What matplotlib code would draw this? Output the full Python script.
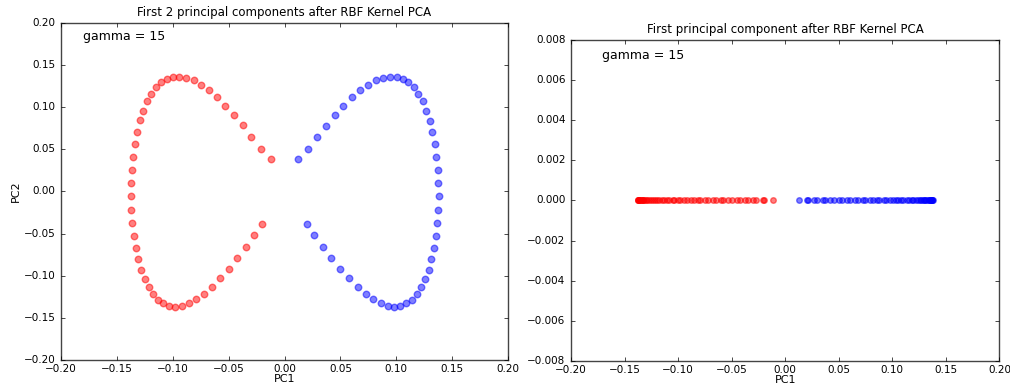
import matplotlib
matplotlib.use("Agg")
from matplotlib import pyplot as plt
import numpy as np

# PC1 / PC2 of the two moons after RBF kernel PCA
red_pc1 = [-0.0118, -0.0210, -0.0300, -0.0371, -0.0452, -0.0532, -0.0604, -0.0676, -0.0747, -0.0810,
           -0.0881, -0.0944, -0.0998, -0.1051, -0.1105, -0.1150, -0.1198, -0.1230, -0.1269, -0.1296,
           -0.1323, -0.1338, -0.1359, -0.1368, -0.1377, -0.1377, -0.1377, -0.1368, -0.1350, -0.1332,
           -0.1314, -0.1287, -0.1251, -0.1215, -0.1177, -0.1135, -0.1087, -0.1037, -0.0980, -0.0917,
           -0.0855, -0.0792, -0.0720, -0.0649, -0.0577, -0.0497, -0.0425, -0.0345, -0.0273, -0.0201]
red_pc2 = [0.0390, 0.0509, 0.0652, 0.0787, 0.0902, 0.1009, 0.1120, 0.1203, 0.1262, 0.1322,
           0.1346, 0.1358, 0.1358, 0.1330, 0.1298, 0.1239, 0.1155, 0.1072, 0.0961, 0.0846,
           0.0712, 0.0569, 0.0414, 0.0260, 0.0105, -0.0050, -0.0216, -0.0371, -0.0525, -0.0672,
           -0.0803, -0.0933, -0.1040, -0.1135, -0.1219, -0.1290, -0.1326, -0.1361, -0.1373, -0.1361,
           -0.1326, -0.1278, -0.1219, -0.1135, -0.1028, -0.0921, -0.0791, -0.0660, -0.0513, -0.0382]

blue_pc1 = [0.0124, 0.0213, 0.0294, 0.0374, 0.0455, 0.0526, 0.0607, 0.0679, 0.0744, 0.0816,
            0.0879, 0.0941, 0.1004, 0.1057, 0.1102, 0.1156, 0.1192, 0.1236, 0.1263, 0.1299,
            0.1317, 0.1344, 0.1353, 0.1371, 0.1374, 0.1383, 0.1374, 0.1365, 0.1353, 0.1335,
            0.1308, 0.1290, 0.1254, 0.1219, 0.1183, 0.1138, 0.1084, 0.1031, 0.0977, 0.0923,
            0.0861, 0.0789, 0.0726, 0.0655, 0.0574, 0.0500, 0.0419, 0.0348, 0.0267, 0.0204]
blue_pc2 = [0.0390, 0.0509, 0.0652, 0.0783, 0.0902, 0.1009, 0.1120, 0.1203, 0.1262, 0.1322,
            0.1350, 0.1358, 0.1358, 0.1330, 0.1298, 0.1239, 0.1155, 0.1072, 0.0961, 0.0842,
            0.0712, 0.0569, 0.0414, 0.0260, 0.0105, -0.0050, -0.0216, -0.0371, -0.0525, -0.0672,
            -0.0803, -0.0933, -0.1040, -0.1135, -0.1219, -0.1290, -0.1326, -0.1361, -0.1373, -0.1361,
            -0.1326, -0.1278, -0.1219, -0.1135, -0.1028, -0.0921, -0.0791, -0.0660, -0.0513, -0.0382]

# right panel: only the first component, everything sits on zero
red_zero = [0.0] * len(red_pc1)
blue_zero = [0.0] * len(blue_pc1)

gamma_text = "gamma = 15"

plt.style.use("classic")
plt.rcParams["font.family"] = ["DejaVu Sans"]
plt.rcParams["xtick.labelsize"] = 7.5
plt.rcParams["ytick.labelsize"] = 7.5
plt.rcParams["xtick.major.size"] = 3
plt.rcParams["ytick.major.size"] = 3
plt.rcParams["xtick.major.pad"] = 3

fig = plt.figure(figsize=(10.1, 3.89), dpi=100, facecolor="white")
ax1 = fig.add_axes([0.0604, 0.0746, 0.4426, 0.8663])
ax2 = fig.add_axes([0.5653, 0.0720, 0.4243, 0.8252])

# left: both components
ax1.scatter(red_pc1, red_pc2, color="red", marker="o", alpha=0.5, s=22, edgecolors="face")
ax1.scatter(blue_pc1, blue_pc2, color="blue", marker="o", alpha=0.5, s=22, edgecolors="face")
ax1.set_xlim(-0.2, 0.2)
ax1.set_ylim(-0.2, 0.2)
ax1.set_xticks(np.arange(-0.2, 0.201, 0.05))
ax1.set_yticks(np.arange(-0.2, 0.201, 0.05))
ax1.set_title("First 2 principal components after RBF Kernel PCA", fontsize=8.5)
ax1.set_xlabel("PC1", fontsize=8, labelpad=0)
ax1.set_ylabel("PC2", fontsize=8, labelpad=2)
ax1.text(0.05, 0.96, gamma_text, transform=ax1.transAxes, fontsize=9, va="center")

# right: first component only
ax2.scatter(red_pc1, red_zero, color="red", marker="o", alpha=0.5, s=16, edgecolors="face")
ax2.scatter(blue_pc1, blue_zero, color="blue", marker="o", alpha=0.5, s=16, edgecolors="face")
ax2.set_xlim(-0.2, 0.2)
ax2.set_ylim(-0.008, 0.008)
ax2.set_xticks(np.arange(-0.2, 0.201, 0.05))
ax2.set_yticks(np.arange(-0.008, 0.0081, 0.002))
ax2.set_title("First principal component after RBF Kernel PCA", fontsize=8.5)
ax2.set_xlabel("PC1", fontsize=8, labelpad=0)
ax2.text(0.072, 0.953, gamma_text, transform=ax2.transAxes, fontsize=9, va="center")

for ax in (ax1, ax2):
    ax.set_facecolor("white")
    for sp in ax.spines.values():
        sp.set_color("#444444")

fig.savefig("out.png", dpi=100, facecolor="white")
